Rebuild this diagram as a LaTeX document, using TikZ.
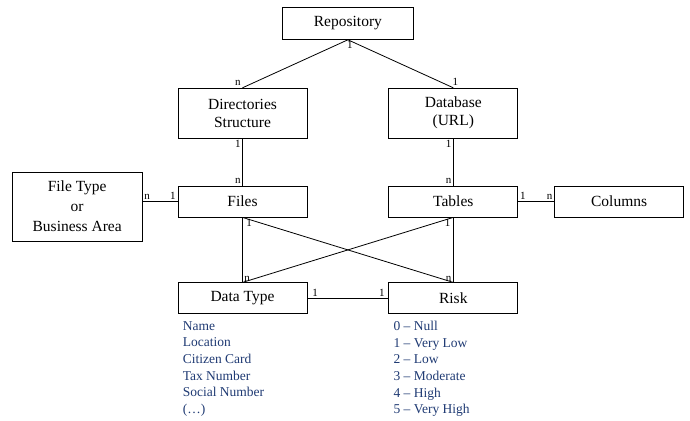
\documentclass[tikz,border=0pt]{standalone}
\usepackage{fontspec}
\setmainfont{Liberation Serif}
\usetikzlibrary{positioning,calc}

\begin{document}
\begin{tikzpicture}
       \definecolor{listblue}{HTML}{1F3A73}

       \newcommand{\rowsep}[0]{47pt}
       \newcommand{\colsep}[0]{81pt}
       \newcommand{\sidesep}[0]{35pt}

       \tikzstyle{block} = [rectangle, draw, line width=0.8pt, minimum width=129pt, minimum height=31pt, align=center, font=\fontsize{15.5}{18}\selectfont]
       \tikzstyle{connector} = [line width=0.8pt]
       \tikzstyle{card} = [inner sep=1.5pt, font=\fontsize{11}{12}\selectfont]
       \tikzstyle{values} = [align=left, text=listblue, inner sep=0pt, anchor=north west, font=\fontsize{13.5}{16.6}\selectfont]

       \node [block] (files) {Files};
       \node [block, right = \colsep of files] (tables) {Tables};
       \node [block, above = \rowsep of files, minimum height=50pt] (dirs) {Directories\\Structure};
       \node [block, above = \rowsep of tables, minimum height=50pt] (database) {Database\\(URL)};
       \node [block, below = 65pt of files] (datatype) {Data Type};
       \node [block, below = 65pt of tables] (risk) {Risk};
       \node [block, left = \sidesep of files, yshift=-5pt, minimum width=130pt, minimum height=69pt,
              font=\fontsize{15.5}{20}\selectfont] (filetype) {File Type\\or\\Business Area};
       \node [block, right = 36pt of tables] (columns) {Columns};
       \node [block, minimum width=131pt, minimum height=32pt, anchor=south]
             (repository) at ($($(dirs.north)!0.5!(database.north)$)+(0,48pt)$) {Repository};

       % value lists under the two bottom entities
       \node [values] (typelist) at ($(datatype.south west)+(5pt,-7pt)$)
             {Name\\Location\\Citizen Card\\Tax Number\\Social Number\\(\dots)};
       \node [values] (risklist) at ($(risk.south west)+(5pt,-7pt)$)
             {0 -- Null\\1 -- Very Low\\2 -- Low\\3 -- Moderate\\4 -- High\\5 -- Very High};

       \draw [connector] (repository.south) -- node [card, at start, anchor=north, xshift=2pt] {1}
             node [card, at end, anchor=south east] {n} (dirs.north);
       \draw [connector] (repository.south) -- node [card, at end, anchor=south, xshift=2pt] {1} (database.north);
       \draw [connector] (dirs.south) -- node [card, at start, anchor=north east] {1}
             node [card, at end, anchor=south east] {n} (files.north);
       \draw [connector] (database.south) -- node [card, at start, anchor=north east] {1}
             node [card, at end, anchor=south east] {n} (tables.north);
       \draw [connector] (filetype.east |- files.west) -- node [card, at start, anchor=south west] {n}
             node [card, at end, anchor=south east] {1} (files.west);
       \draw [connector] (tables.east) -- node [card, at start, anchor=south west] {1}
             node [card, at end, anchor=south east] {n} (columns.west);
       \draw [connector] (files.south) -- node [card, at start, anchor=north west, xshift=2pt] {1}
             node [card, at end, anchor=south west, yshift=-1pt] {n} (datatype.north);
       \draw [connector] (files.south) -- (risk.north);
       \draw [connector] (tables.south) -- node [card, at start, anchor=north east, xshift=-1pt] {1} (datatype.north);
       \draw [connector] (tables.south) -- node [card, at end, anchor=south east, yshift=-1pt] {n} (risk.north);
       \draw [connector] (datatype.east) -- node [card, at start, anchor=south west, xshift=3pt] {1}
             node [card, at end, anchor=south east, xshift=-2pt] {1} (risk.west);

       \useasboundingbox ($(files.center)+(-242.5pt,201.5pt)$) rectangle ++(690pt,-420pt);
     \end{tikzpicture}
\end{document}
